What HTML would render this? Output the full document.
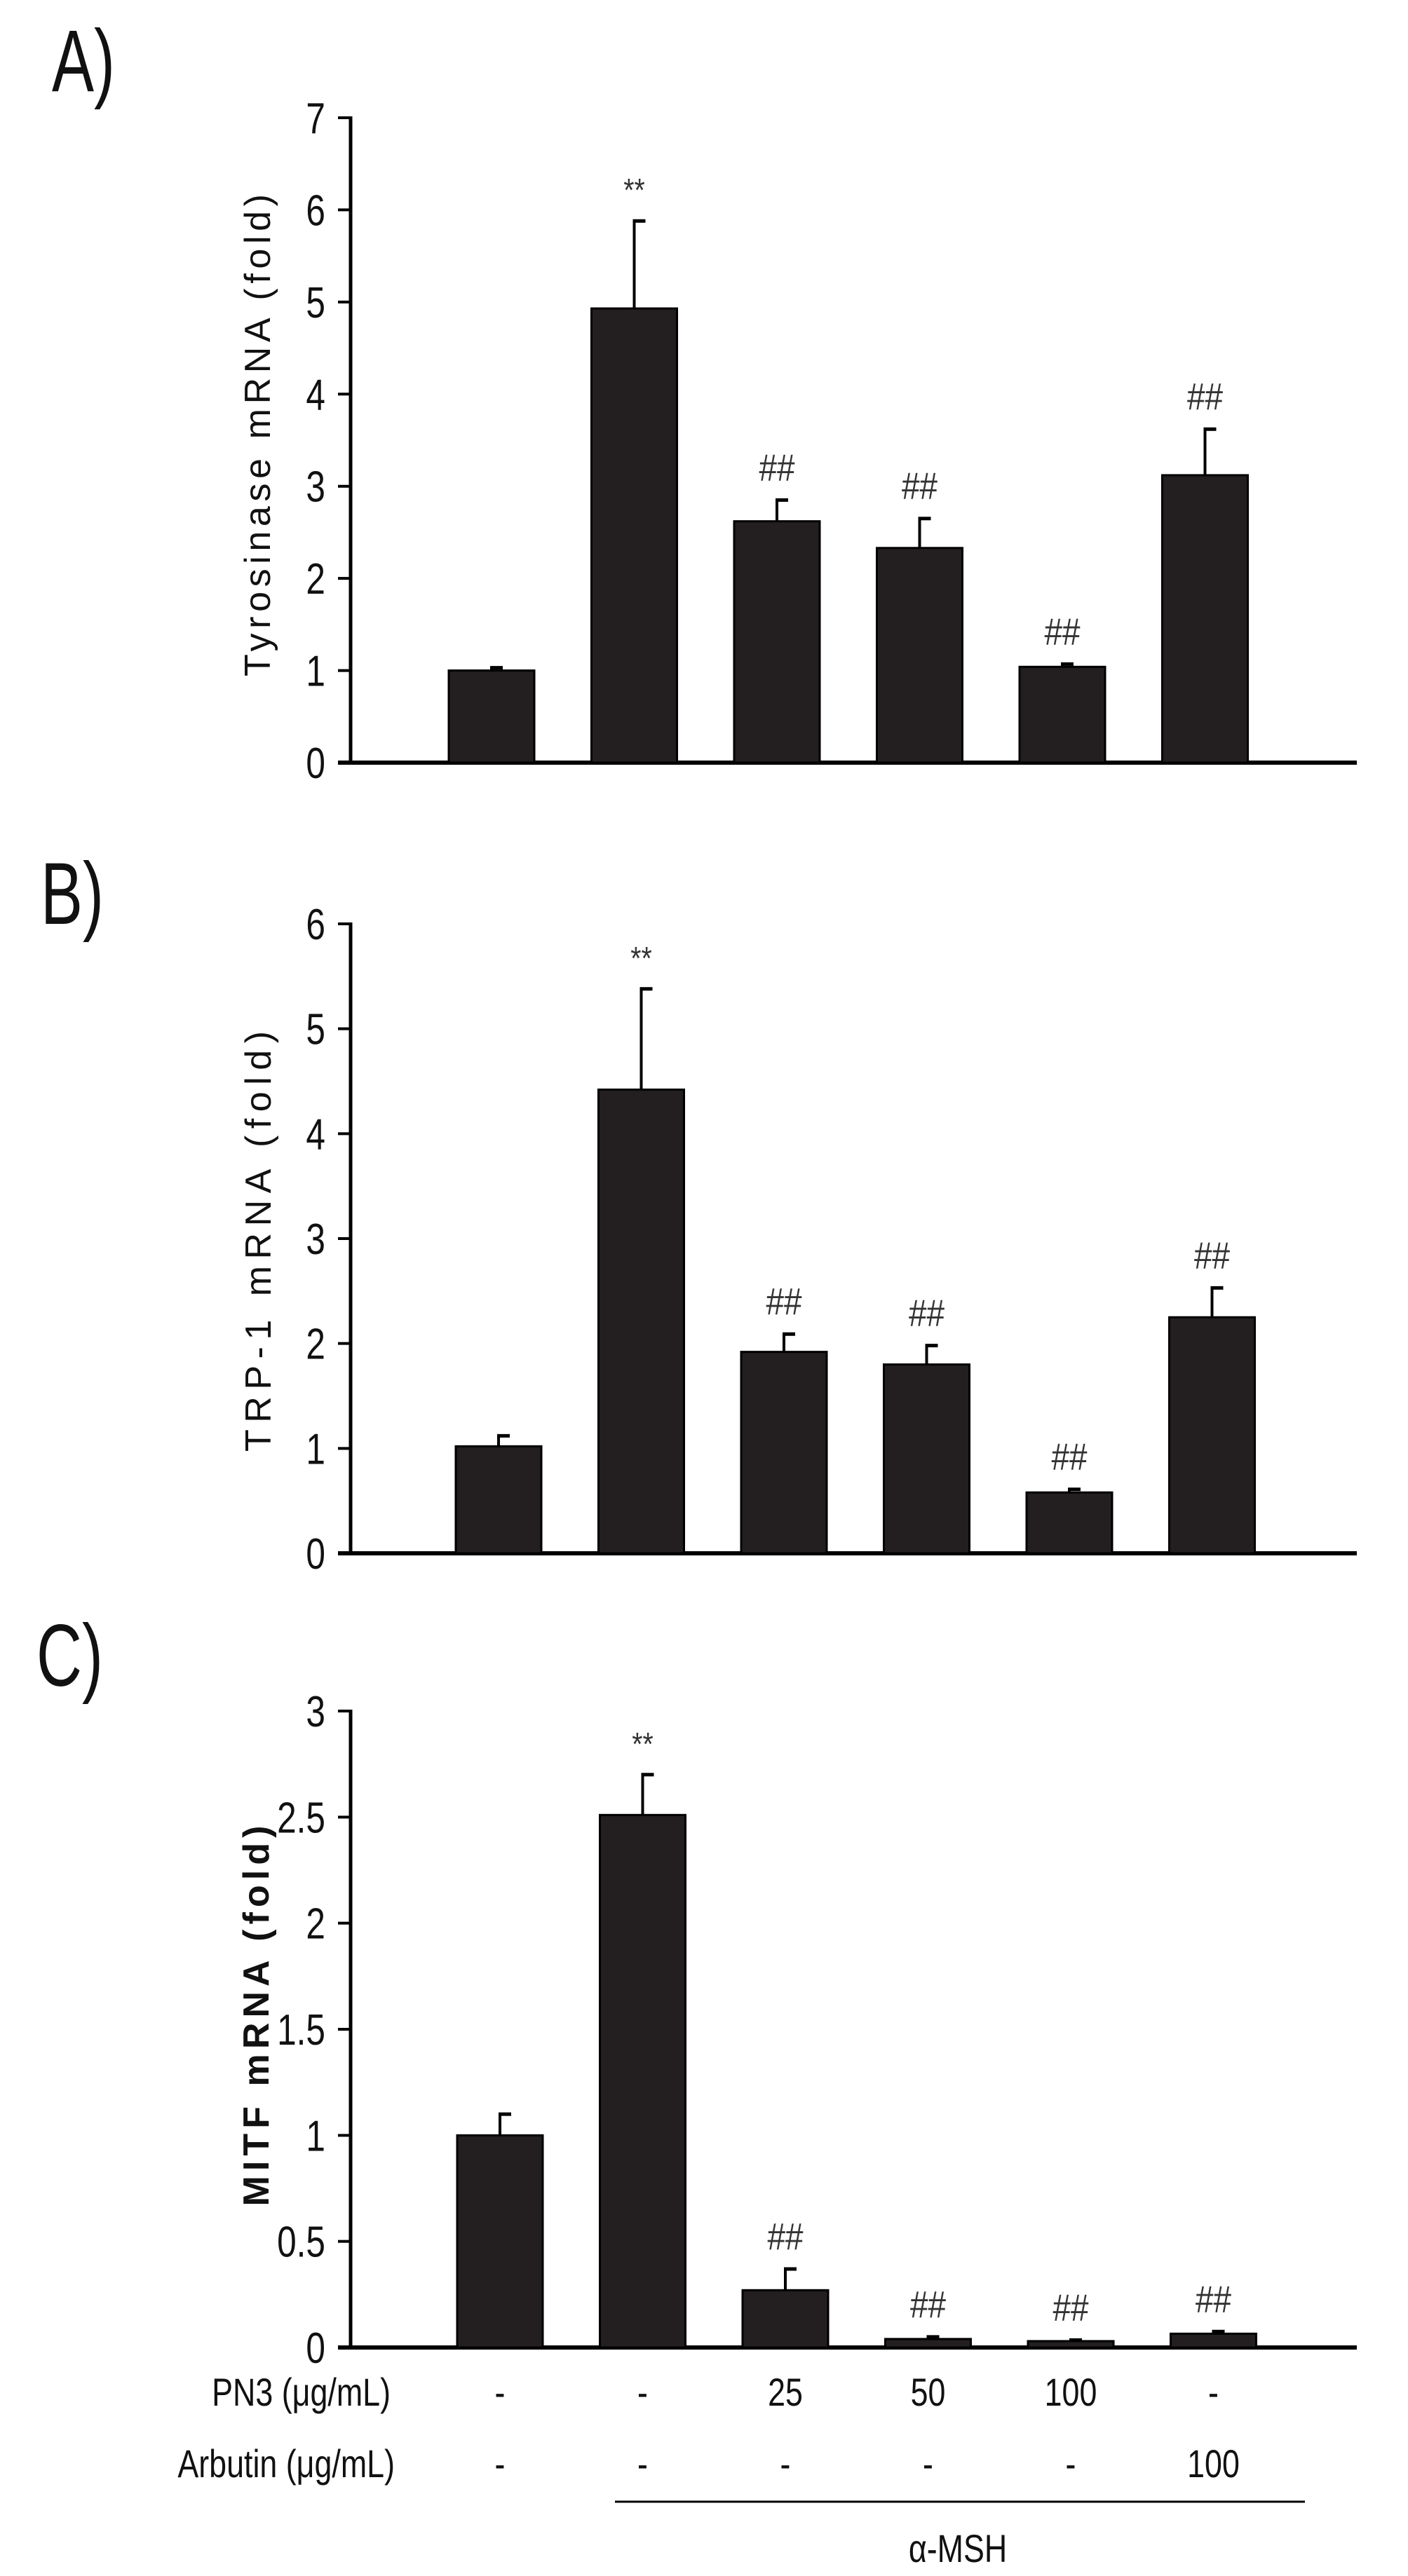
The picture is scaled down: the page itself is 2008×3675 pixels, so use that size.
<!DOCTYPE html>
<html><head><meta charset="utf-8">
<style>
html,body{margin:0;padding:0;background:#fff;}
svg{display:block;}
text{font-family:"Liberation Sans",sans-serif;}
</style></head>
<body>
<svg id="fig" width="2008" height="3675" viewBox="0 0 2008 3675" xmlns="http://www.w3.org/2000/svg"></svg>
<script>
// ---- data ----
const categories = ["control","aMSH","PN3-25","PN3-50","PN3-100","Arbutin-100"];
const tyrValues = [1.0, 4.93, 2.62, 2.33, 1.04, 3.12];
const tyrErrors = [0.03, 0.95, 0.23, 0.32, 0.03, 0.50];
const tyrMarks = ["", "**", "##", "##", "##", "##"];
const trpValues = [1.02, 4.42, 1.92, 1.80, 0.58, 2.25];
const trpErrors = [0.10, 0.96, 0.17, 0.18, 0.03, 0.28];
const trpMarks = ["", "**", "##", "##", "##", "##"];
const mitfValues = [1.0, 2.51, 0.27, 0.04, 0.03, 0.065];
const mitfErrors = [0.10, 0.19, 0.10, 0.01, 0.005, 0.01];
const mitfMarks = ["", "**", "##", "##", "##", "##"];
const tyrTicks = ["0","1","2","3","4","5","6","7"];
const trpTicks = ["0","1","2","3","4","5","6"];
const mitfTicks = ["0","0.5","1","1.5","2","2.5","3"];
const pn3Row = ["-","-","25","50","100","-"];
const arbutinRow = ["-","-","-","-","-","100"];

const NS = "http://www.w3.org/2000/svg";
const svg = document.getElementById('fig');
function mk(tag, attrs, parent){
  const e = document.createElementNS(NS, tag);
  for (const k in attrs) e.setAttribute(k, attrs[k]);
  (parent||svg).appendChild(e);
  return e;
}
function ctext(x, y, str, size, sx, anchor, parent, extra){
  const t = mk('text', Object.assign({transform:`translate(${x},${y}) scale(${sx},1)`, 'font-size':size, 'text-anchor':anchor||'middle', fill:'#111'}, extra||{}), parent);
  t.textContent = str;
  return t;
}

const AX = 500, XEND = 1935;
function panel(cfg){
  const g = mk('g', {});
  
  
  const y = v => cfg.y0 - (v / cfg.max) * (cfg.y0 - cfg.yTop);
  const cx = i => 701 + cfg.dx + i * 203.5;
  const lab = ctext(cfg.labX, cfg.labY, cfg.label, 125, 0.72, 'start', g);
  
  
  const ya = mk('line', {x1:AX, y1:cfg.yTop-2, x2:AX, y2:cfg.y0, stroke:'#000','stroke-width':5}, g);
  
  
  const xa = mk('line', {x1:AX-18, y1:cfg.y0, x2:XEND, y2:cfg.y0, stroke:'#000','stroke-width':6}, g);
  
  
  cfg.ticks.forEach((tk, i) => {
    const v = parseFloat(tk);
    const yy = y(v);
    const tl = mk('line', {x1:AX-18, y1:yy, x2:AX, y2:yy, stroke:'#000','stroke-width':4}, g);
    
    
    const tt = ctext(AX-36, yy+22, tk, 62, 0.8, 'end', g);
    
    
  });
  const ti = mk('text', {transform:`translate(${cfg.titleX},${cfg.titleY}) rotate(-90)`, 'font-size':52, 'text-anchor':'middle', fill:'#111', textLength:cfg.titleLen, lengthAdjust:'spacing', 'font-weight':cfg.bold?'bold':'normal'}, g);
  ti.textContent = cfg.title;
  
  
  cfg.values.forEach((v, i) => {
    const x = cx(i), top = y(v), etop = y(v + cfg.errors[i]);
    const eb = mk('line', {x1:x, y1:top, x2:x, y2:etop, stroke:'#000','stroke-width':4}, g);
    
    
    const ec = mk('line', {x1:x-2, y1:etop, x2:x+16, y2:etop, stroke:'#000','stroke-width':5}, g);
    
    
    const r = mk('rect', {x:x-61, y:top, width:122, height:cfg.y0-top, fill:'#231f20', stroke:'#000','stroke-width':3}, g);
    
    
    if (cfg.marks[i]) {
      const m = ctext(x, etop - 28, cfg.marks[i], cfg.marks[i]==='**'?46:54, 0.85, 'middle', g, {fill:'#333'});
      
      
    }
  });
  return {cx};
}

panel({name:'panel-a-tyrosinase', label:'A)', labX:74, labY:130, y0:1088, yTop:168, max:7, ticks:tyrTicks, values:tyrValues, errors:tyrErrors, marks:tyrMarks, title:'Tyrosinase mRNA (fold)', titleX:385, titleY:621, titleLen:688, dx:0});
panel({name:'panel-b-trp1', label:'B)', labX:58, labY:1318, y0:2216, yTop:1318, max:6, ticks:trpTicks, values:trpValues, errors:trpErrors, marks:trpMarks, title:'TRP-1 mRNA (fold)', titleX:386, titleY:1771, titleLen:600, dx:10});
const pc = panel({name:'panel-c-mitf', label:'C)', labX:52, labY:2405, y0:3349, yTop:2441, max:3, ticks:mitfTicks, values:mitfValues, errors:mitfErrors, marks:mitfMarks, title:'MITF mRNA (fold)', titleX:383, titleY:2876, titleLen:543, bold:true, dx:12});

const tg = mk('g', {});


const l1 = ctext(557, 3432, 'PN3 (μg/mL)', 56, 0.8, 'end', tg);


const l2 = ctext(563, 3534, 'Arbutin (μg/mL)', 56, 0.8, 'end', tg);


pn3Row.forEach((s, i) => {
  const t = ctext(pc.cx(i), 3432, s, 56, 0.8, 'middle', tg);
  
  
});
arbutinRow.forEach((s, i) => {
  const t = ctext(pc.cx(i), 3534, s, 56, 0.8, 'middle', tg);
  
  
});
const br = mk('line', {x1:877, y1:3569, x2:1861, y2:3569, stroke:'#000','stroke-width':3}, tg);


const ms = ctext(1366, 3655, 'α-MSH', 56, 0.8, 'middle', tg);


</script>
</body></html>
